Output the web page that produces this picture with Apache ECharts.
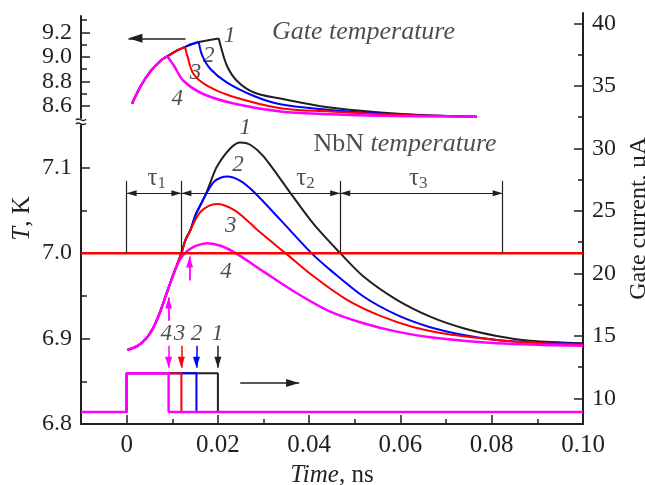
<!DOCTYPE html>
<html>
<head>
<meta charset="utf-8">
<script src="https://cdn.jsdelivr.net/npm/echarts@6/dist/echarts.min.js"></script>
<style>
  html, body { margin: 0; padding: 0; background: #fff; }
  #chart { width: 645px; height: 485px; }
</style>
</head>
<body>
<div id="chart"></div>
<script>
// ---- axis ticks ----
const xMajor = [0, 0.02, 0.04, 0.06, 0.08, 0.10];
const xMinor = [0.01, 0.03, 0.05, 0.07, 0.09];
const gateTicks = [8.6, 8.8, 9.0, 9.2];
const gateMinor = [8.7, 8.9, 9.1, 9.3];
const nbnTicks = [6.9, 7.0, 7.1];
const nbnTickLabels = [6.8, 6.9, 7.0, 7.1];
const nbnMinor = [6.85, 6.95, 7.05];
const currentTicks = [10, 15, 20, 25, 30, 35, 40];
const currentMinor = [12.5, 17.5, 22.5, 27.5, 32.5, 37.5];

// ---- gate temperature [time ns, T K] ----
const gateRise = [[0.0012, 8.618], [0.0031, 8.762], [0.0053, 8.884], [0.0074, 8.966], [0.0089, 9.004]];
const gateRise3 = [[0.0107, 9.045], [0.0128, 9.080]];
const gateRise2 = [[0.0142, 9.102], [0.0158, 9.121]];
const gateRise1 = [[0.0179, 9.135], [0.0202, 9.149]];
const gateFall1 = [[0.0202, 9.149], [0.0206, 9.088], [0.0220, 8.925], [0.0242, 8.802], [0.0279, 8.708],
  [0.0337, 8.659], [0.0446, 8.585], [0.0556, 8.545], [0.0665, 8.520], [0.0767, 8.511]];
const gateFall2 = [[0.0158, 9.121], [0.0166, 9.007], [0.0184, 8.898], [0.0220, 8.789], [0.0279, 8.680],
  [0.0337, 8.612], [0.0446, 8.566], [0.0556, 8.536], [0.0665, 8.520], [0.0767, 8.511]];
const gateFall3 = [[0.0128, 9.080], [0.0133, 9.007], [0.0147, 8.857], [0.0177, 8.762], [0.0228, 8.680],
  [0.0337, 8.580], [0.0446, 8.553], [0.0556, 8.531], [0.0767, 8.511]];
const gateFall4 = [[0.0089, 9.004], [0.0104, 8.925], [0.0125, 8.802], [0.0169, 8.694], [0.0242, 8.612],
  [0.0337, 8.553], [0.0446, 8.531], [0.0556, 8.518], [0.0767, 8.511]];

// ---- NbN temperature [time ns, T K] ----
const nbnRise = [[0.0002, 6.8867], [0.0024, 6.8914], [0.0042, 6.8996], [0.0057, 6.9113], [0.0070, 6.9265],
  [0.0085, 6.9488], [0.0098, 6.9687]];
const nbn1 = [[0.0112, 6.9886], [0.0120, 7.0], [0.0129, 7.0156], [0.0140, 7.0273], [0.0151, 7.0449],
  [0.0162, 7.0566], [0.0173, 7.0683], [0.0184, 7.0835], [0.0198, 7.1015], [0.0228, 7.1230], [0.0249, 7.1296],
  [0.0271, 7.1269], [0.0300, 7.1132], [0.0359, 7.0703], [0.0410, 7.0340], [0.0468, 7.0], [0.0519, 6.9726],
  [0.0592, 6.9453], [0.0665, 6.9257], [0.0738, 6.9121], [0.0811, 6.9031], [0.0884, 6.8976], [0.1, 6.8946]];
const nbn2 = [[0.0112, 6.9886], [0.0120, 7.0], [0.0129, 7.0156], [0.0140, 7.0273], [0.0151, 7.0449],
  [0.0162, 7.0566], [0.0173, 7.0683], [0.0191, 7.0835], [0.0206, 7.0882], [0.0220, 7.0897], [0.0249, 7.0847],
  [0.0278, 7.0722], [0.0337, 7.0390], [0.0405, 7.0], [0.0446, 6.9804], [0.0519, 6.9492], [0.0592, 6.9277],
  [0.0665, 6.9133], [0.0738, 6.9043], [0.0811, 6.8984], [0.0884, 6.8957], [0.1, 6.8937]];
const nbn3 = [[0.0112, 6.9886], [0.0120, 7.0], [0.0129, 7.0156], [0.0140, 7.0273], [0.0151, 7.0395],
  [0.0162, 7.0484], [0.0180, 7.0554], [0.0198, 7.0574], [0.0235, 7.0507], [0.0271, 7.0351], [0.0286, 7.0273],
  [0.0348, 7.0], [0.0410, 6.9726], [0.0483, 6.9453], [0.0556, 6.9265], [0.0629, 6.9133], [0.0702, 6.9054],
  [0.0811, 6.8984], [0.0884, 6.8953], [0.1, 6.8929]];
const nbn4 = [[0.0112, 6.9875], [0.0124, 6.9980], [0.0138, 7.0045], [0.0153, 7.0088], [0.0177, 7.0117],
  [0.0206, 7.0086], [0.0239, 7.0], [0.0300, 6.9784], [0.0373, 6.9531], [0.0446, 6.9316], [0.0519, 6.9180],
  [0.0592, 6.9081], [0.0665, 6.9016], [0.0811, 6.8946], [0.1, 6.8917]];
const tcLine = [[-0.01, 7.0], [0.10, 7.0]];

// ---- gate current pulses (µA) ----
const pulseEnds = [0.0200, 0.0153, 0.0120, 0.0092];
const pulseLow = 8.9;
const pulseHigh = 12.0;

// ---- annotations ----
const tauMarks = [0, 0.012, 0.0468, 0.0824];
const tauTop = 7.0846;
const tauArrowT = 7.070;
const gateNums = [['1', 0.0226, 9.17], ['2', 0.0180, 9.007], ['3', 0.0151, 8.871], ['4', 0.0111, 8.653]];
const nbnNums = [['1', 0.0260, 7.146], ['2', 0.0244, 7.103], ['3', 0.0228, 7.032], ['4', 0.0218, 6.978]];
const pulseNums = [['4', 0.0087, 15.18], ['3', 0.0116, 15.18], ['2', 0.0153, 15.18], ['1', 0.0199, 15.18]];
const tauNames = [['1', 0.0066, 7.088], ['2', 0.0392, 7.088], ['3', 0.0639, 7.088]];

const INK = '#231f20';
const COLORS = [INK, '#0000ff', '#ff0000', '#ff00ff'];
const WIDTHS = [2, 2, 2, 2.5];
const SERIF = '"Liberation Serif", "Times New Roman", serif';
const FS = 24;

const chart = echarts.init(document.getElementById('chart'));

function curve(data, color, width, xi, yi, smooth) {
  return {
    type: 'line', xAxisIndex: xi, yAxisIndex: yi, data: data,
    symbol: 'none', smooth: smooth, silent: true,
    lineStyle: { color: color, width: width }, itemStyle: { color: color }
  };
}

function arrowPair(from, to, size, both) {
  const head = { symbol: 'triangle', symbolSize: size, symbolOffset: [0, '50%'] };
  return [
    Object.assign({ coord: from }, both ? head : { symbol: 'none' }),
    Object.assign({ coord: to }, head)
  ];
}

function markLines(color, width, data) {
  return {
    silent: true, animation: false, symbol: ['none', 'none'],
    label: { show: false },
    lineStyle: { color: color, width: width, type: 'solid' },
    emphasis: { disabled: true },
    data: data
  };
}

function textSeries(xi, yi, items, style) {
  return {
    type: 'scatter', xAxisIndex: xi, yAxisIndex: yi, symbolSize: 0, silent: true, z: 10,
    data: items.map(it => ({ value: [it[1], it[2]], label: { formatter: it[0] } })),
    label: Object.assign({
      show: true, position: 'inside', color: INK, fontFamily: SERIF, fontSize: 23, fontStyle: 'italic'
    }, style || {})
  };
}

function yAxisOf(grid, pos, min, max, ticks, labels, len, showLine) {
  return {
    gridIndex: grid, type: 'value', position: pos, min: min, max: max,
    axisLine: { show: showLine, onZero: false, lineStyle: { color: INK, width: 2 } },
    axisTick: { show: true, inside: true, length: len, customValues: ticks, lineStyle: { color: INK, width: 1.5 } },
    axisLabel: labels ? {
      show: true, customValues: labels, margin: 9, color: INK, fontFamily: SERIF, fontSize: FS,
      hideOverlap: false,
      formatter: v => (pos === 'left' ? v.toFixed(1) : String(v))
    } : { show: false },
    splitLine: { show: false }
  };
}

const series = [];

// gate temperature curves (upper panel)
const gateRises = [
  gateRise.concat(gateRise3, gateRise2, gateRise1),
  gateRise.concat(gateRise3, gateRise2),
  gateRise.concat(gateRise3),
  gateRise
];
const gateFalls = [gateFall1, gateFall2, gateFall3, gateFall4];
for (let i = 0; i < 4; i++) {
  series.push(curve(gateRises[i], COLORS[i], WIDTHS[i], 0, 0, 0.35));
  series.push(curve(gateFalls[i], COLORS[i], WIDTHS[i], 0, 0, 0.35));
}
series[0].markLine = markLines(INK, 1.5, [arrowPair([0.0129, 9.151], [0.0004, 9.151], [9, 14], false)]);

// NbN temperature curves (lower panel)
const nbnCurves = [nbn1, nbn2, nbn3, nbn4];
for (let i = 0; i < 4; i++) {
  series.push(curve(nbnRise.concat(nbnCurves[i]), COLORS[i], WIDTHS[i], 1, 2, 0.3));
}
series[series.length - 1].markLine = markLines(COLORS[3], 1.8, [
  arrowPair([0.0092, 6.921], [0.0092, 6.948], [7, 11], false),
  arrowPair([0.0138, 6.968], [0.0138, 6.996], [7, 11], false)
]);

const tauLines = tauMarks.map(t => [{ coord: [t, 7.0], symbol: 'none' }, { coord: [t, tauTop], symbol: 'none' }]);
const tauArrows = [];
for (let i = 0; i < tauMarks.length - 1; i++) {
  tauArrows.push(arrowPair([tauMarks[i], tauArrowT], [tauMarks[i + 1], tauArrowT], [6, 10], true));
}
const tc = curve(tcLine, '#ff0000', 2.5, 1, 2, false);
tc.markLine = markLines(INK, 1.2, tauLines.concat(tauArrows));
series.push(tc);

// gate current pulses (right axis)
for (let i = 0; i < 4; i++) {
  const e = pulseEnds[i];
  const p = curve([[-0.01, pulseLow], [0, pulseLow], [0, pulseHigh], [e, pulseHigh], [e, pulseLow], [0.10, pulseLow]],
    COLORS[i], WIDTHS[i], 2, 4, false);
  const ml = [arrowPair([e, 14.2], [e, 12.45], [7, 11], false)];
  if (i === 0) ml.push(arrowPair([0.0249, 11.22], [0.0378, 11.22], [8, 13], false));
  p.markLine = markLines(COLORS[i], 1.5, ml);
  series.push(p);
}

// texts
series.push(textSeries(0, 0, gateNums));
series.push(textSeries(0, 0, [['Gate temperature', 0.0519, 9.2]], { fontSize: 26 }));
series.push(textSeries(1, 2, nbnNums));
series.push(textSeries(1, 2, [['{n|NbN} temperature', 0.0610, 7.128]], {
  fontSize: 26,
  rich: { n: { fontStyle: 'normal', fontFamily: SERIF, fontSize: 26, color: INK } }
}));
series.push(textSeries(1, 2, tauNames.map(t => ['{t|τ}{s|' + t[0] + '}', t[1], t[2]]), {
  fontStyle: 'normal',
  rich: {
    t: { fontFamily: SERIF, fontSize: 25, color: INK },
    s: { fontFamily: SERIF, fontSize: 17, color: INK, padding: [12, 0, 0, 0] }
  }
}));
series.push(textSeries(2, 4, pulseNums));

const gridBase = { left: 81, right: 62, containLabel: false, outerBoundsMode: 'none' };

const option = {
  animation: false,
  backgroundColor: '#fff',
  grid: [
    Object.assign({ top: 16, height: 102 }, gridBase),
    Object.assign({ top: 125, height: 299 }, gridBase),
    Object.assign({ top: 13, height: 411 }, gridBase)
  ],
  xAxis: [
    { gridIndex: 0, type: 'value', min: -0.01, max: 0.10, show: false },
    {
      gridIndex: 1, type: 'value', min: -0.01, max: 0.10,
      axisLine: { show: true, onZero: false, lineStyle: { color: INK, width: 2 } },
      axisTick: { show: true, inside: true, length: 9, customValues: xMajor, lineStyle: { color: INK, width: 1.5 } },
      axisLabel: {
        customValues: xMajor, margin: 9, color: INK, fontFamily: SERIF, fontSize: 25, hideOverlap: false,
        formatter: v => (v === 0 ? '0' : v.toFixed(2))
      },
      splitLine: { show: false },
      name: '{i|Time}, ns', nameLocation: 'middle', nameGap: 33,
      nameTextStyle: {
        color: INK, fontFamily: SERIF, fontSize: 25,
        rich: { i: { fontStyle: 'italic', fontFamily: SERIF, fontSize: 25, color: INK } }
      }
    },
    {
      gridIndex: 2, type: 'value', min: -0.01, max: 0.10,
      axisLine: { show: false, onZero: false },
      axisTick: { show: true, inside: true, length: 5, customValues: xMinor, lineStyle: { color: INK, width: 1.5 } },
      axisLabel: { show: false }, splitLine: { show: false }
    }
  ],
  yAxis: [
    yAxisOf(0, 'left', 8.5, 9.333, gateTicks, gateTicks, 9, true),
    yAxisOf(0, 'left', 8.5, 9.333, gateMinor, null, 6, false),
    yAxisOf(1, 'left', 6.8, 7.15, nbnTicks, nbnTickLabels, 9, true),
    yAxisOf(1, 'left', 6.8, 7.15, nbnMinor, null, 6, false),
    Object.assign(yAxisOf(2, 'right', 7.94, 40.82, currentTicks, currentTicks, 9, true), {
      name: 'Gate current, µA', nameLocation: 'middle', nameRotate: 90, nameGap: 31,
      nameTextStyle: { color: INK, fontFamily: SERIF, fontSize: 24 }
    }),
    yAxisOf(2, 'right', 7.94, 40.82, currentMinor, null, 5, false),
    Object.assign(yAxisOf(2, 'left', 7.94, 40.82, [], null, 0, false), {
      axisTick: { show: false },
      name: '{i|T}, K', nameLocation: 'middle', nameRotate: 90, nameGap: 46,
      nameTextStyle: {
        color: INK, fontFamily: SERIF, fontSize: 25,
        rich: { i: { fontStyle: 'italic', fontFamily: SERIF, fontSize: 25, color: INK } }
      }
    })
  ],
  graphic: [
    { type: 'bezierCurve', shape: { x1: 76, y1: 120, cpx1: 79, cpy1: 116, cpx2: 83, cpy2: 124, x2: 86, y2: 119 },
      style: { stroke: INK, lineWidth: 1.3, fill: null } },
    { type: 'bezierCurve', shape: { x1: 76, y1: 124, cpx1: 79, cpy1: 120, cpx2: 83, cpy2: 128, x2: 86, y2: 123 },
      style: { stroke: INK, lineWidth: 1.3, fill: null } }
  ],
  series: series
};

chart.setOption(option);
</script>
</body>
</html>
